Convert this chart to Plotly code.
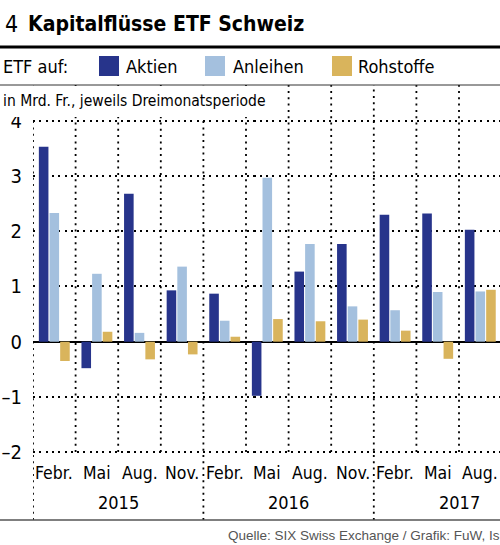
import plotly.graph_objects as go

months = ["Febr.", "Mai", "Aug.", "Nov.", "Febr.", "Mai", "Aug.", "Nov.", "Febr.", "Mai", "Aug."]
years = ["2015", "2016", "2017"]
aktien = [3.53, -0.48, 2.68, 0.93, 0.87, -0.98, 1.27, 1.77, 2.30, 2.32, 2.03]
anleihen = [2.33, 1.23, 0.16, 1.36, 0.38, 2.97, 1.77, 0.64, 0.57, 0.90, 0.91]
rohstoffe = [-0.35, 0.18, -0.32, -0.23, 0.09, 0.41, 0.37, 0.40, 0.20, -0.31, 0.94]
yticks = [-2, -1, 0, 1, 2, 3, 4]
yticktext = ["\u20132", "\u20131", "0", "1", "2", "3", "4"]

W, H = 500, 545
L, R, T, B = 33, 0, 85, 25
PW, PH = W - L - R, H - T - B
FONT = "DejaVu Sans Condensed, DejaVu Sans, sans-serif"
C_AKT, C_ANL, C_ROH = "#27348b", "#a4c0de", "#d9b45c"
DOT = "2px,4.3px"

def px(p):
    return (p - L) / PW

def py(p):
    return (H - B - p) / PH

x = list(range(len(months)))
fig = go.Figure()
fig.add_bar(x=x, y=aktien, name="Aktien", marker_color=C_AKT, marker_line_width=0)
fig.add_bar(x=x, y=anleihen, name="Anleihen", marker_color=C_ANL, marker_line_width=0)
fig.add_bar(x=x, y=rohstoffe, name="Rohstoffe", marker_color=C_ROH, marker_line_width=0)

ytop, ybot = 4.65, -3.23

shapes = []
for k in range(len(months) + 1):
    xb = k - 0.5
    is_year = (k % 4 == 0)
    shapes.append(dict(type="line", xref="x", yref="y", x0=xb, x1=xb,
                       y0=ybot if is_year else -2, y1=ytop,
                       line=dict(color="black", width=1.8, dash=DOT), layer="below"))
shapes.append(dict(type="rect", xref="paper", yref="paper", x0=px(0), x1=px(268),
                   y0=py(117), y1=py(86), fillcolor="white", line_width=0, layer="above"))
shapes.append(dict(type="line", xref="paper", yref="paper", x0=px(0), x1=px(500),
                   y0=py(47), y1=py(47), line=dict(color="black", width=3)))
shapes.append(dict(type="line", xref="paper", yref="paper", x0=px(0), x1=px(500),
                   y0=py(85), y1=py(85), line=dict(color="#333333", width=1)))
shapes.append(dict(type="line", xref="paper", yref="paper", x0=px(0), x1=px(500),
                   y0=py(520), y1=py(520), line=dict(color="#555555", width=1.5)))
for x0, c in [(99, C_AKT), (205, C_ANL), (332, C_ROH)]:
    shapes.append(dict(type="rect", xref="paper", yref="paper", x0=px(x0), x1=px(x0 + 20),
                       y0=py(76), y1=py(56), fillcolor=c, line_width=0))

ann = []
def text(t, xp, yp, size, color="black", anchor="left", bold=False, family=FONT):
    ann.append(dict(text=("<b>%s</b>" % t) if bold else t, xref="paper", yref="paper",
                    x=px(xp), y=py(yp), xanchor=anchor, yanchor="middle", showarrow=False,
                    font=dict(family=family, size=size, color=color)))

text("4", 3, 24, 23)
text("Kapitalflüsse ETF Schweiz", 26, 24, 21, bold=True)
text("ETF auf:", 1, 67, 18)
text("Aktien", 124, 66, 18)
text("Anleihen", 231, 66, 18)
text("Rohstoffe", 356, 66, 18)
text("in Mrd. Fr., jeweils Dreimonatsperiode", 1, 101, 15.5)
text("Quelle: SIX Swiss Exchange / Grafik: FuW, Is", 226, 535, 13.5,
     color="#555555", family="Liberation Sans, Arial, sans-serif")

for i, m in enumerate(months):
    ann.append(dict(text=m, xref="x", yref="y", x=i, y=-2.38, showarrow=False,
                    xanchor="center", yanchor="middle", font=dict(family=FONT, size=17.5, color="black")))
for j, yr in enumerate(years):
    ann.append(dict(text=yr, xref="x", yref="y", x=4 * j + 1.5, y=-2.92, showarrow=False,
                    xanchor="center", yanchor="middle", font=dict(family=FONT, size=18, color="black")))

fig.update_layout(
    width=W, height=H, margin=dict(l=L, r=R, t=T, b=B, autoexpand=False),
    paper_bgcolor="white", plot_bgcolor="white",
    showlegend=False, barmode="group", bargap=0.25, bargroupgap=0.1,
    shapes=shapes, annotations=ann,
    xaxis=dict(range=[-0.5, -0.5 + PW / 42.6], showticklabels=False, showgrid=False,
               zeroline=False, showline=False, ticks="", automargin=False),
    yaxis=dict(range=[ybot, ytop], tickvals=yticks, ticktext=yticktext,
               showgrid=True, gridcolor="black", gridwidth=1.8, griddash=DOT,
               zeroline=True, zerolinecolor="black", zerolinewidth=2,
               showline=False, ticks="", ticklabelstandoff=10, automargin=False,
               tickfont=dict(family=FONT, size=20, color="black")),
)
fig.write_html("out.html", config={"displayModeBar": False},
               post_script="document.body.style.margin='0px';document.body.style.overflow='hidden';")
